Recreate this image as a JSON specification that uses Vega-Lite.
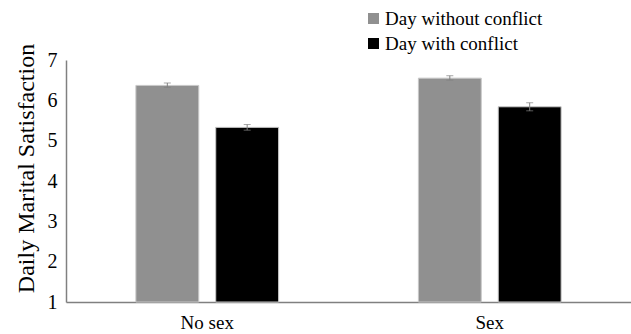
{
  "$schema": "https://vega.github.io/schema/vega-lite/v6.json",
  "width": 565,
  "height": 242,
  "autosize": "none",
  "padding": {"left": 66, "top": 60, "right": 0, "bottom": 32},
  "background": "white",
  "config": {
    "view": {"stroke": null},
    "font": "Liberation Serif",
    "axis": {"labelColor": "#000000", "titleColor": "#000000", "grid": false, "ticks": false, "domainColor": "#808080", "domainWidth": 1.5}
  },
  "data": {
    "values": [
      {"group": "No sex", "day": "Day without conflict", "value": 6.37, "lo": 6.32, "hi": 6.43},
      {"group": "No sex", "day": "Day with conflict", "value": 5.33, "lo": 5.26, "hi": 5.40},
      {"group": "Sex", "day": "Day without conflict", "value": 6.55, "lo": 6.50, "hi": 6.61},
      {"group": "Sex", "day": "Day with conflict", "value": 5.84, "lo": 5.74, "hi": 5.94}
    ]
  },
  "encoding": {
    "x": {"field": "group", "type": "nominal", "sort": ["No sex", "Sex"],
      "scale": {"paddingInner": 0, "paddingOuter": 0},
      "axis": {"title": null, "labelAngle": 0, "labelFont": "Liberation Serif", "labelFontSize": 19, "labelPadding": 11}},
    "xOffset": {"field": "day", "type": "nominal", "sort": ["Day without conflict", "Day with conflict"],
      "scale": {"paddingInner": 0.2125, "paddingOuter": 0.875}}
  },
  "layer": [
    {
      "mark": {"type": "bar", "stroke": "#c8c8c8", "strokeWidth": 1},
      "encoding": {
        "y": {"field": "value", "type": "quantitative",
          "scale": {"domain": [1, 7], "nice": false, "zero": false},
          "axis": {"title": "Daily Marital Satisfaction", "titleFont": "Liberation Serif", "titleFontSize": 24, "titleFontWeight": "normal", "titlePadding": 9, "titleY": 108, "labelFont": "Liberation Serif", "labelFontSize": 20, "labelPadding": 9, "values": [1, 2, 3, 4, 5, 6, 7]}},
        "y2": {"datum": 1},
        "color": {"field": "day", "type": "nominal",
          "scale": {"domain": ["Day without conflict", "Day with conflict"], "range": ["#909090", "#000000"]},
          "legend": {"title": null, "orient": "none", "legendX": 298, "legendY": -51, "padding": 0,
            "symbolType": "square", "symbolSize": 121, "symbolStrokeWidth": 0, "labelFont": "Liberation Serif", "labelFontSize": 19, "labelLimit": 300,
            "labelColor": "#000000", "labelOffset": 2, "rowPadding": 5}}
      }
    },
    {
      "mark": {"type": "rule", "color": "#808080", "strokeWidth": 1},
      "encoding": {
        "y": {"field": "lo", "type": "quantitative"},
        "y2": {"field": "hi"}
      }
    },
    {
      "mark": {"type": "tick", "color": "#808080", "thickness": 1, "size": 7},
      "encoding": {"y": {"field": "lo", "type": "quantitative"}}
    },
    {
      "mark": {"type": "tick", "color": "#808080", "thickness": 1, "size": 7},
      "encoding": {"y": {"field": "hi", "type": "quantitative"}}
    }
  ]
}
